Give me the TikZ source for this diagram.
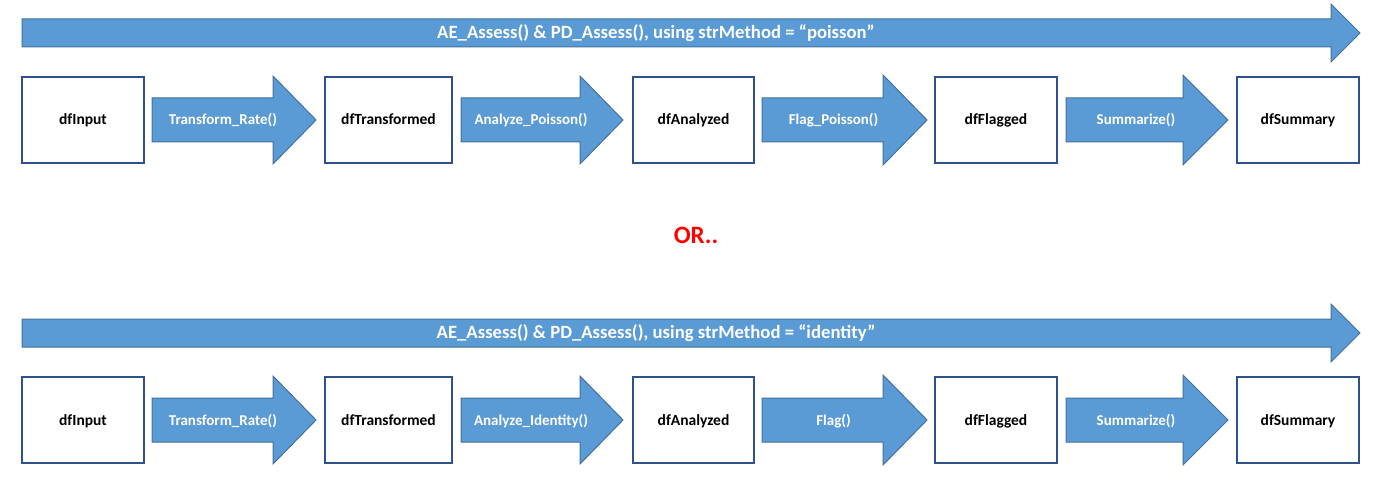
\documentclass[tikz,border=0pt]{standalone}
\usepackage{fontspec}
\setmainfont{Carlito}
\begin{document}
\begin{tikzpicture}[x=1pt,y=-1pt,
  databox/.style={draw=boxblue,line width=2pt,fill=white},
  arrowshape/.style={draw=arrowedge,line width=1pt,fill=arrowfill,line join=miter},
  arrowlabel/.style={text=white,font=\fontsize{15}{18}\selectfont\bfseries,inner sep=0pt,anchor=base},
  boxlabel/.style={text=black,font=\fontsize{15.5}{18}\selectfont\bfseries,inner sep=0pt,anchor=base},
  bannerlabel/.style={text=white,font=\fontsize{18.7}{22}\selectfont\bfseries,inner sep=0pt,anchor=base},
  orlabel/.style={text=orred,font=\fontsize{25}{30}\selectfont\bfseries,inner sep=0pt,anchor=base}]
\definecolor{boxblue}{HTML}{2F528F}
\definecolor{arrowedge}{HTML}{41719C}
\definecolor{arrowfill}{HTML}{5B9BD5}
\definecolor{orred}{HTML}{FF0000}
\useasboundingbox (0,0) rectangle (1388,489);
\newcommand{\blockarr}[8]{%
  \draw[arrowshape] (#2,#5-#6) -- (#3,#5-#6) -- (#3,#5-#7) -- (#4,#5) -- (#3,#5+#7) -- (#3,#5+#6) -- (#2,#5+#6) -- cycle;
  \node[arrowlabel] (#1) at ({(#2+#4)/2-11},#5+5) {#8};}
% ---------- row 1 ----------
\draw[arrowshape] (22,19) -- (1331,19) -- (1331,4) -- (1360,33) -- (1331,62) -- (1331,47) -- (22,47) -- cycle;
\node[bannerlabel] (bannerA) at (656,38.5) {AE\_Assess() \& PD\_Assess(), using strMethod = “poisson”};
\draw[databox] (22,77) rectangle (144,163);
\node[boxlabel] (inA) at (83,125) {dfInput};
\draw[databox] (325,77) rectangle (452,163);
\node[boxlabel] (trA) at (388.5,125) {dfTransformed};
\draw[databox] (633,77) rectangle (754,163);
\node[boxlabel] (anA) at (693.5,125) {dfAnalyzed};
\draw[databox] (935,77) rectangle (1057,163);
\node[boxlabel] (flA) at (996,125) {dfFlagged};
\draw[databox] (1237,77) rectangle (1359,163);
\node[boxlabel] (suA) at (1298,125) {dfSummary};
\blockarr{t1A}{152}{273}{316}{120}{22}{44}{Transform\_Rate()}
\blockarr{t2A}{461}{580}{623}{120}{22}{44}{Analyze\_Poisson()}
\blockarr{t3A}{762}{883}{927}{120}{22}{45}{Flag\_Poisson()}
\blockarr{t4A}{1066}{1183}{1228}{120}{22}{45}{Summarize()}
% ---------- OR ----------
\node[orlabel] (or) at (696,243.5) {OR..};
% ---------- row 2 ----------
\draw[arrowshape] (22,319) -- (1331,319) -- (1331,304) -- (1360,333) -- (1331,362) -- (1331,347) -- (22,347) -- cycle;
\node[bannerlabel] (bannerB) at (656,338.5) {AE\_Assess() \& PD\_Assess(), using strMethod = “identity”};
\draw[databox] (22,377) rectangle (144,463);
\node[boxlabel] (inB) at (83,425) {dfInput};
\draw[databox] (325,377) rectangle (452,463);
\node[boxlabel] (trB) at (388.5,425) {dfTransformed};
\draw[databox] (633,377) rectangle (754,463);
\node[boxlabel] (anB) at (693.5,425) {dfAnalyzed};
\draw[databox] (935,377) rectangle (1057,463);
\node[boxlabel] (flB) at (996,425) {dfFlagged};
\draw[databox] (1237,377) rectangle (1359,463);
\node[boxlabel] (suB) at (1298,425) {dfSummary};
\blockarr{t1B}{152}{273}{316}{420}{22}{44}{Transform\_Rate()}
\blockarr{t2B}{461}{580}{623}{420}{22}{44}{Analyze\_Identity()}
\blockarr{t3B}{762}{883}{927}{420}{22}{45}{Flag()}
\blockarr{t4B}{1066}{1183}{1228}{420}{22}{45}{Summarize()}
\end{tikzpicture}
\end{document}
